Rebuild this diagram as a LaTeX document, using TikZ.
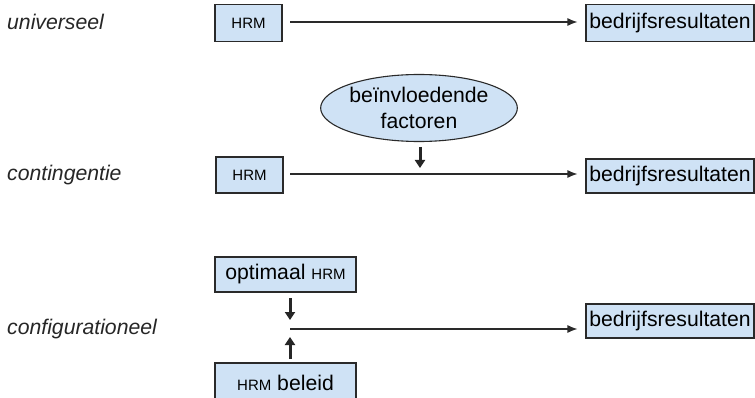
\documentclass[tikz,border=0pt]{standalone}
\usepackage{fontspec}
\setmainfont{Liberation Sans}
\usetikzlibrary{arrows.meta,shapes.geometric}
\definecolor{boxfill}{HTML}{CFE2F5}
\definecolor{linec}{HTML}{2A2A2A}
\newcommand{\bigtxt}{\fontsize{21.2}{24}\selectfont}
\newcommand{\hrmsc}{{\fontsize{15}{16}\selectfont HRM}}
\tikzset{
  box/.style={draw=linec, line width=1.1pt, fill=boxfill, inner sep=0pt, font=\bigtxt},
  lab/.style={anchor=west, font=\bigtxt\itshape, inner sep=0pt, text=black!85},
  conn/.style={draw=linec, line width=1.2pt, -{Latex[length=10pt,width=8pt]}},
  push/.style={draw=black!85, line width=3pt, -{Triangle[length=8pt,width=10pt]}}
}
\begin{document}
\begin{tikzpicture}[x=1pt,y=-1pt]
\useasboundingbox (0,0) rectangle (755,398);
\clip (0,0) rectangle (755,398);
% labels
\node[lab] (l1) at (7,22) {universeel};
\node[lab] (l2) at (7,175) {contingentie};
\node[lab] (l3) at (7,329) {configurationeel};
% row 1
\node[box, minimum width=67pt, minimum height=37pt] (h1) at (248.5,23) {\hrmsc};
\node[box, minimum width=168pt, minimum height=37pt] (b1) at (670,23) {bedrijfsresultaten};
\coordinate (s1) at (290,22);
\draw[conn, shorten >=8pt] (s1) -- (s1 -| b1.west);
% row 2
\node[box, minimum width=67pt, minimum height=36pt] (h2) at (249.5,175) {\hrmsc};
\node[box, minimum width=168pt, minimum height=34pt] (b2) at (670,176) {bedrijfsresultaten};
\coordinate (s2) at (290,174);
\draw[conn, shorten >=8pt] (s2) -- (s2 -| b2.west);
\node[ellipse, draw=linec, line width=1.1pt, fill=boxfill, minimum width=156pt, minimum height=67pt, inner sep=0pt, align=center, font=\bigtxt] (e) at (419,108) {beïnvloedende\\[2pt]factoren};
\coordinate (e1) at (420,147);
\coordinate (m2) at (420,168);
\draw[push] (e1) -- (m2);
% row 3
\node[box, minimum width=141pt, minimum height=35pt] (o) at (285.5,274.5) {optimaal \hrmsc};
\node[box, minimum width=141pt, minimum height=40pt] (p) at (285.5,383) {\hrmsc{} beleid};
\node[box, minimum width=168pt, minimum height=34pt] (b3) at (670,321) {bedrijfsresultaten};
\coordinate (s3) at (290,329);
\draw[conn, shorten >=8pt] (s3) -- (s3 -| b3.west);
\coordinate (d1) at (290,298);
\coordinate (d2) at (290,320);
\coordinate (u1) at (290,359);
\coordinate (u2) at (290,337);
\draw[push] (d1) -- (d2);
\draw[push] (u1) -- (u2);
\end{tikzpicture}
\end{document}
